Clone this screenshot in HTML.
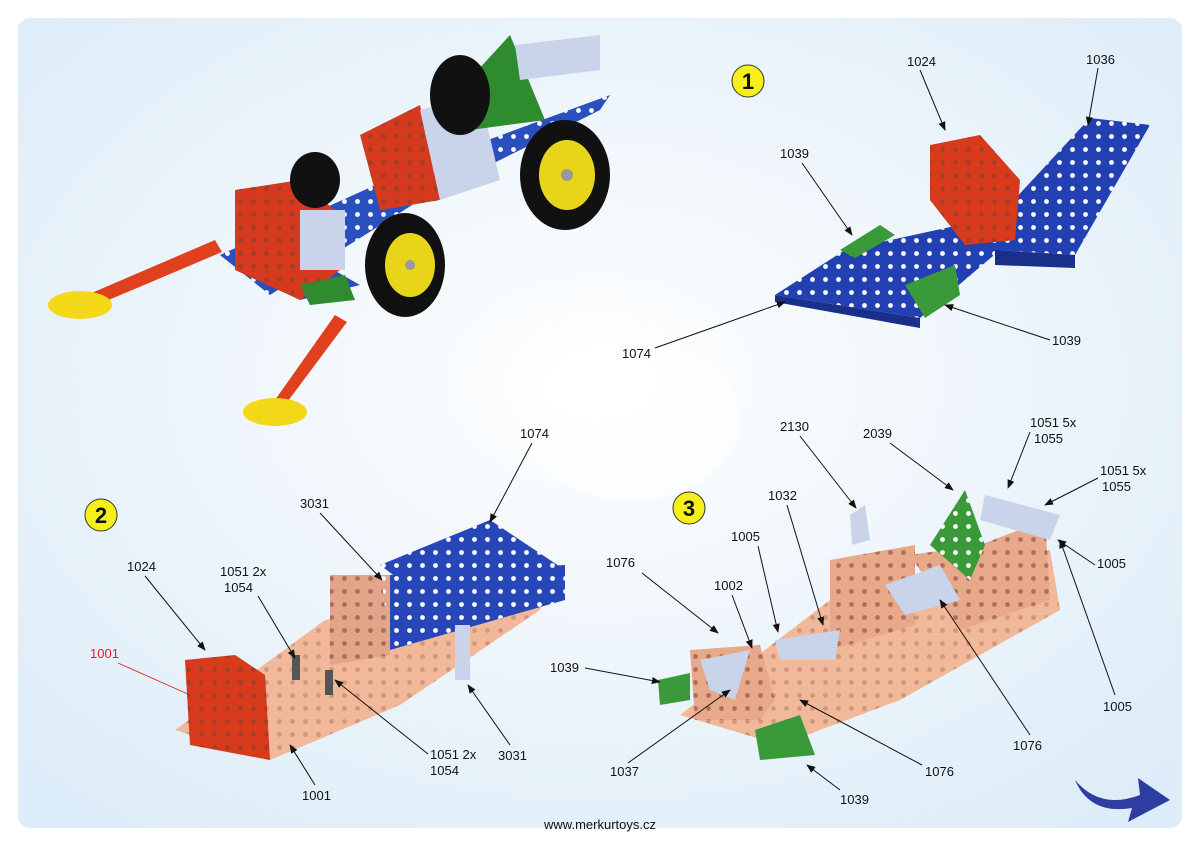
<!DOCTYPE html>
<html><head><meta charset="utf-8"><style>
html,body{margin:0;padding:0;background:#fff}
svg{display:block}
text{font-family:"Liberation Sans",sans-serif;font-size:13px;fill:#111}
</style></head><body>
<svg width="1200" height="845" viewBox="0 0 1200 845" xmlns="http://www.w3.org/2000/svg">
<defs>
<radialGradient id="bg" cx="50%" cy="45%" r="70%">
<stop offset="0" stop-color="#ffffff"/><stop offset="0.35" stop-color="#f3f8fc"/><stop offset="1" stop-color="#dcecf8"/>
</radialGradient>
<marker id="ar" viewBox="0 0 10 10" refX="9" refY="5" markerWidth="9" markerHeight="9" orient="auto"><path d="M0,1 L10,5 L0,9 z" fill="#111"/></marker>
<pattern id="holes" width="13" height="13" patternUnits="userSpaceOnUse"><circle cx="6.5" cy="6.5" r="2.4" fill="#fff"/></pattern>
<pattern id="holesd" width="13" height="13" patternUnits="userSpaceOnUse"><circle cx="6.5" cy="6.5" r="2.4" fill="#7a4030" opacity="0.55"/></pattern>
</defs>
<rect x="0" y="0" width="1200" height="845" fill="#fff"/>
<rect x="18" y="18" width="1164" height="810" rx="12" fill="url(#bg)"/>
<ellipse cx="630" cy="420" rx="110" ry="80" fill="#fff" opacity="0.5"/>

<!-- top-left model -->
<g>
<polygon points="220,255 420,165 610,95 600,110 420,200 270,295" fill="#2a4fbf"/>
<polygon points="220,255 420,165 610,95 600,110 420,200 270,295" fill="url(#holes)"/>
<polygon points="230,258 300,300 360,285 290,245" fill="#2a4fbf"/>
<polygon points="235,190 300,180 340,215 340,270 300,300 235,270" fill="#d63a1e"/>
<polygon points="235,190 300,180 340,215 340,270 300,300 235,270" fill="url(#holesd)"/>
<rect x="300" y="210" width="45" height="60" fill="#c9d3ea"/>
<polygon points="360,135 420,105 440,200 380,210" fill="#d63a1e"/>
<polygon points="360,135 420,105 440,200 380,210" fill="url(#holesd)"/>
<polygon points="420,110 480,95 500,180 440,200" fill="#c9d3ea"/>
<polygon points="455,95 510,35 545,120 470,130" fill="#2e8b2e"/>
<polygon points="515,45 600,35 600,70 520,80" fill="#c9d3ea"/>
<ellipse cx="565" cy="175" rx="45" ry="55" fill="#111"/><ellipse cx="567" cy="175" rx="28" ry="35" fill="#e8d51a"/><circle cx="567" cy="175" r="6" fill="#999"/>
<ellipse cx="405" cy="265" rx="40" ry="52" fill="#111"/><ellipse cx="410" cy="265" rx="25" ry="32" fill="#e8d51a"/><circle cx="410" cy="265" r="5" fill="#999"/>
<ellipse cx="315" cy="180" rx="25" ry="28" fill="#111"/>
<ellipse cx="460" cy="95" rx="30" ry="40" fill="#111"/>
<polygon points="80,298 215,240 222,252 85,310" fill="#e0401e"/>
<ellipse cx="80" cy="305" rx="32" ry="14" fill="#f2d817"/>
<polygon points="275,400 335,315 347,322 285,405" fill="#e0401e"/>
<ellipse cx="275" cy="412" rx="32" ry="14" fill="#f2d817"/>
<polygon points="300,285 345,275 355,300 310,305" fill="#2e8b2e"/>
</g>

<!-- step 1 -->
<circle cx="748" cy="81" r="16" fill="#f7ef1a" stroke="#333"/>
<text x="748" y="89" text-anchor="middle" style="font-size:22px;font-weight:bold">1</text>
<polygon points="775,295 845,250 1005,215 1000,250 920,318" fill="#2340b3"/>
<polygon points="775,295 845,250 1005,215 1000,250 920,318" fill="url(#holes)"/>
<polygon points="775,295 920,318 920,328 775,302" fill="#1a2f8a"/>
<polygon points="1000,215 1090,118 1150,125 1075,255 995,250" fill="#2340b3"/>
<polygon points="1000,215 1090,118 1150,125 1075,255 995,250" fill="url(#holes)"/>
<polygon points="995,250 1075,255 1075,268 995,265" fill="#1a2f8a"/>
<polygon points="930,145 980,135 1020,180 1015,240 965,245 930,200" fill="#d83a1c"/>
<polygon points="930,145 980,135 1020,180 1015,240 965,245 930,200" fill="url(#holesd)"/>
<polygon points="840,250 880,225 895,235 855,258" fill="#3a9a3a"/>
<polygon points="905,285 955,265 960,295 925,318" fill="#3a9a3a"/>
<text x="907" y="66">1024</text><line x1="920" y1="70" x2="945" y2="130" stroke="#111" marker-end="url(#ar)"/>
<text x="1086" y="64">1036</text><line x1="1098" y1="68" x2="1088" y2="125" stroke="#111" marker-end="url(#ar)"/>
<text x="780" y="158">1039</text><line x1="802" y1="163" x2="852" y2="235" stroke="#111" marker-end="url(#ar)"/>
<text x="1052" y="345">1039</text><line x1="1050" y1="340" x2="945" y2="305" stroke="#111" marker-end="url(#ar)"/>
<text x="622" y="358">1074</text><line x1="655" y1="348" x2="785" y2="302" stroke="#111" marker-end="url(#ar)"/>

<!-- step 2 -->
<circle cx="101" cy="515" r="16" fill="#f7ef1a" stroke="#333"/>
<text x="101" y="523" text-anchor="middle" style="font-size:22px;font-weight:bold">2</text>
<polygon points="175,730 325,620 550,585 540,610 400,705 270,760" fill="#f2b89a"/>
<polygon points="175,730 325,620 550,585 540,610 400,705 270,760" fill="url(#holesd)" opacity="0.5"/>
<polygon points="330,575 390,575 390,655 330,665" fill="#e3a58a"/>
<polygon points="330,575 390,575 390,655 330,665" fill="url(#holesd)"/>
<polygon points="390,575 565,565 565,600 390,650" fill="#2746b8"/>
<polygon points="380,565 490,520 565,570 400,580" fill="#2746b8"/>
<polygon points="380,565 490,520 565,570 565,600 390,650" fill="url(#holes)"/>
<polygon points="185,660 235,655 265,675 270,760 190,745" fill="#d83a1c"/>
<polygon points="185,660 235,655 265,675 270,760 190,745" fill="url(#holesd)"/>
<rect x="455" y="625" width="15" height="55" fill="#c9d3ea"/>
<rect x="292" y="655" width="8" height="25" fill="#555"/><rect x="325" y="670" width="8" height="25" fill="#555"/>
<text x="127" y="571">1024</text><line x1="145" y1="576" x2="205" y2="650" stroke="#111" marker-end="url(#ar)"/>
<text x="90" y="658" style="fill:#e02020">1001</text><line x1="118" y1="663" x2="190" y2="695" stroke="#e02020" stroke-width="0.8"/>
<text x="220" y="576">1051 2x</text><text x="224" y="592">1054</text><line x1="258" y1="596" x2="295" y2="658" stroke="#111" marker-end="url(#ar)"/>
<text x="300" y="508">3031</text><line x1="320" y1="513" x2="382" y2="580" stroke="#111" marker-end="url(#ar)"/>
<text x="520" y="438">1074</text><line x1="532" y1="443" x2="490" y2="522" stroke="#111" marker-end="url(#ar)"/>
<text x="430" y="759">1051 2x</text><text x="430" y="775">1054</text><line x1="428" y1="754" x2="335" y2="680" stroke="#111" marker-end="url(#ar)"/>
<text x="498" y="760">3031</text><line x1="510" y1="745" x2="468" y2="685" stroke="#111" marker-end="url(#ar)"/>
<text x="302" y="800">1001</text><line x1="315" y1="785" x2="290" y2="745" stroke="#111" marker-end="url(#ar)"/>

<!-- step 3 -->
<circle cx="689" cy="508" r="16" fill="#f7ef1a" stroke="#333"/>
<text x="689" y="516" text-anchor="middle" style="font-size:22px;font-weight:bold">3</text>
<polygon points="680,715 830,600 1050,550 1060,610 900,700 780,745" fill="#f2b89a"/>
<polygon points="680,715 830,600 1050,550 1060,610 900,700 780,745" fill="url(#holesd)" opacity="0.5"/>
<polygon points="830,560 915,545 915,625 830,650" fill="#e8a98a"/>
<polygon points="830,560 915,545 915,625 830,650" fill="url(#holesd)"/>
<polygon points="690,650 760,645 775,700 760,720 695,720" fill="#e8a98a"/>
<polygon points="690,650 760,645 775,700 760,720 695,720" fill="url(#holesd)"/>
<polygon points="910,555 980,545 1045,520 1050,600 960,630" fill="#e8a98a"/>
<polygon points="910,555 980,545 1045,520 1050,600 960,630" fill="url(#holesd)"/>
<polygon points="930,545 965,490 985,545 970,580" fill="#3a9a3a"/>
<polygon points="930,545 965,490 985,545 970,580" fill="url(#holes)"/>
<polygon points="885,585 940,565 960,600 905,615" fill="#c9d3ea"/>
<polygon points="985,495 1060,515 1050,540 980,520" fill="#c9d3ea"/>
<polygon points="755,730 800,715 815,755 760,760" fill="#3a9a3a"/>
<polygon points="658,680 690,673 690,700 660,705" fill="#3a9a3a"/>
<polygon points="700,660 750,650 735,700 710,690" fill="#c9d3ea"/>
<polygon points="850,515 865,505 870,540 852,545" fill="#c9d3ea"/>
<polygon points="775,640 840,630 835,660 780,660" fill="#c9d3ea"/>
<text x="780" y="431">2130</text><line x1="800" y1="436" x2="856" y2="508" stroke="#111" marker-end="url(#ar)"/>
<text x="863" y="438">2039</text><line x1="890" y1="443" x2="953" y2="490" stroke="#111" marker-end="url(#ar)"/>
<text x="1030" y="427">1051 5x</text><text x="1034" y="443">1055</text><line x1="1030" y1="432" x2="1008" y2="488" stroke="#111" marker-end="url(#ar)"/>
<text x="1100" y="475">1051 5x</text><text x="1102" y="491">1055</text><line x1="1098" y1="478" x2="1045" y2="505" stroke="#111" marker-end="url(#ar)"/>
<text x="768" y="500">1032</text><line x1="787" y1="505" x2="823" y2="625" stroke="#111" marker-end="url(#ar)"/>
<text x="731" y="541">1005</text><line x1="758" y1="546" x2="778" y2="632" stroke="#111" marker-end="url(#ar)"/>
<text x="1097" y="568">1005</text><line x1="1095" y1="565" x2="1058" y2="540" stroke="#111" marker-end="url(#ar)"/>
<text x="606" y="567">1076</text><line x1="642" y1="573" x2="718" y2="633" stroke="#111" marker-end="url(#ar)"/>
<text x="714" y="590">1002</text><line x1="732" y1="595" x2="752" y2="648" stroke="#111" marker-end="url(#ar)"/>
<text x="550" y="672">1039</text><line x1="585" y1="668" x2="660" y2="682" stroke="#111" marker-end="url(#ar)"/>
<text x="1103" y="711">1005</text><line x1="1115" y1="695" x2="1060" y2="540" stroke="#111" marker-end="url(#ar)"/>
<text x="1013" y="750">1076</text><line x1="1030" y1="735" x2="940" y2="600" stroke="#111" marker-end="url(#ar)"/>
<text x="610" y="776">1037</text><line x1="628" y1="763" x2="730" y2="690" stroke="#111" marker-end="url(#ar)"/>
<text x="925" y="776">1076</text><line x1="922" y1="765" x2="800" y2="700" stroke="#111" marker-end="url(#ar)"/>
<text x="840" y="804">1039</text><line x1="840" y1="790" x2="807" y2="765" stroke="#111" marker-end="url(#ar)"/>

<!-- arrow -->
<path d="M1075,780 Q1100,810 1140,795 L1138,778 L1170,800 L1128,822 L1132,808 Q1090,815 1075,780 z" fill="#2e3da0"/>
<text x="600" y="829" text-anchor="middle">www.merkurtoys.cz</text>
</svg>
</body></html>
